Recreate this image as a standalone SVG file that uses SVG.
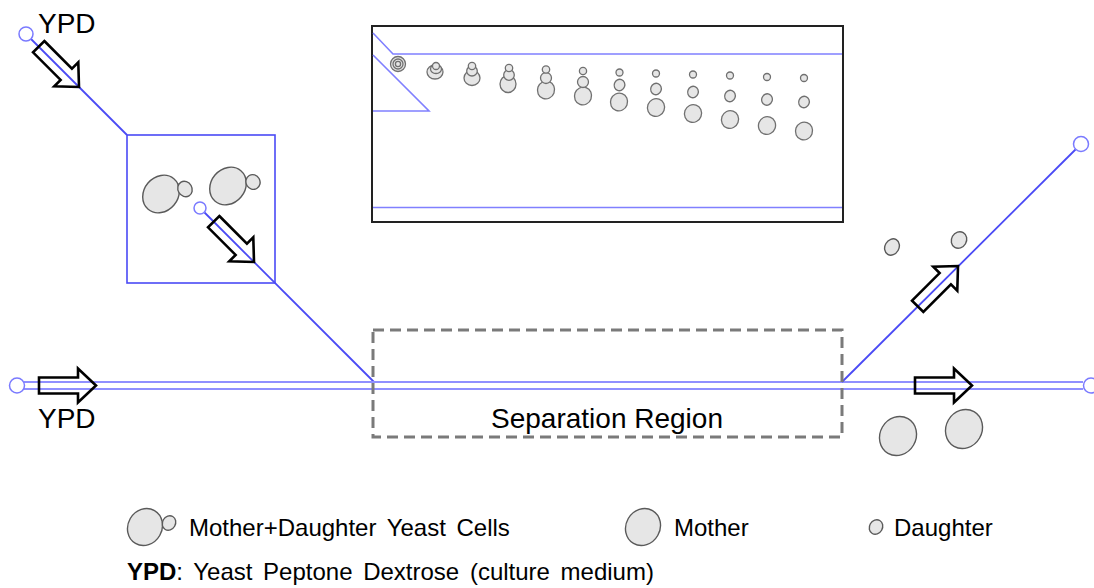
<svg xmlns="http://www.w3.org/2000/svg" width="1094" height="588" viewBox="0 0 1094 588">
  <style>
    .txt { font-family: "Liberation Sans", Arial, sans-serif; fill: #000; }
    .big { font-size: 28px; }
    .leg { font-size: 24px; word-spacing: 4px; }
    .chan { stroke: #8f8fff; stroke-width: 2; fill: none; }
    .diag { stroke: #4a4af5; stroke-width: 1.8; fill: none; }
    .port { stroke: #7a7aff; stroke-width: 1.5; fill: #fff; }
    .cell { fill: #e6e6e6; stroke: #5a5a5a; stroke-width: 1.4; }
    .icell { fill: #e6e6e6; stroke: #707070; stroke-width: 1.3; }
    .flow { fill: none; stroke: #000; stroke-width: 2.6; stroke-linejoin: miter; }
    .inset-ch { stroke: #8080ff; stroke-width: 1.6; fill: none; }
  </style>
  <defs>
    <!-- hollow block arrow, tip at origin pointing +x -->
    <polygon id="flowArrow" class="flow" points="-57,-8 -18,-8 -18,-17 0,0 -18,17 -18,8 -57,8"/>
  </defs>

  <rect width="1094" height="588" fill="#fff"/>

  <!-- channels -->
  <g id="connectors">
    <line class="diag" x1="31" y1="39" x2="127" y2="135"/>
    <line class="diag" x1="204.5" y1="212.5" x2="374" y2="382"/>
    <line class="chan" x1="24" y1="382" x2="1083" y2="382"/>
    <line class="chan" x1="24" y1="389" x2="1083" y2="389"/>
    <line class="diag" x1="842" y1="382" x2="1075.5" y2="149.5"/>
  </g>

  <!-- inlets / outlets -->
  <g id="inlet-top"><circle class="port" cx="26" cy="34" r="7"/></g>
  <g id="inlet-left"><circle class="port" cx="17" cy="385.5" r="7.5"/></g>
  <g id="outlet-upper"><circle class="port" cx="1081" cy="144" r="7.5"/></g>
  <g id="outlet-right"><circle class="port" cx="1091" cy="385.5" r="7.5"/></g>

  <!-- zoomed view of the upper inlet -->
  <g id="inlet-zoom">
    <rect x="127" y="135" width="148" height="148" fill="none" stroke="#4a4af5" stroke-width="1.6"/>
    <ellipse class="cell" cx="161" cy="194" rx="20" ry="17" transform="rotate(-50 161 194)"/>
    <ellipse class="cell" cx="185" cy="189" rx="7" ry="8" transform="rotate(-30 185 189)"/>
    <ellipse class="cell" cx="228" cy="186" rx="20" ry="17" transform="rotate(-50 228 186)"/>
    <ellipse class="cell" cx="253" cy="182" rx="7" ry="7.5" transform="rotate(-30 253 182)"/>
    <circle class="port" cx="200" cy="208" r="6"/>
  </g>

  <!-- flow arrows -->
  <g id="flow-arrows">
    <use href="#flowArrow" transform="translate(79 87) rotate(45)"/>
    <use href="#flowArrow" transform="translate(254 262) rotate(45)"/>
    <use href="#flowArrow" transform="translate(96 385.5)"/>
    <use href="#flowArrow" transform="translate(958 266) rotate(-45)"/>
    <use href="#flowArrow" transform="translate(972 385.5)"/>
  </g>

  <!-- separation region -->
  <g id="separation-region">
    <rect x="373" y="330" width="469" height="107" fill="none" stroke="#7a7a7a" stroke-width="3" stroke-dasharray="11 6"/>
    <text class="txt big" x="607" y="428" text-anchor="middle">Separation Region</text>
  </g>

  <!-- inset: cells separating along the channel -->
  <g id="separation-inset">
    <rect x="372" y="26" width="471" height="196" fill="#fff" stroke="#222" stroke-width="2"/>
    <polyline class="inset-ch" points="373,33 393,54 842,54"/>
    <polyline class="inset-ch" points="373,55 429,111 373,111"/>
    <line class="inset-ch" x1="373" y1="207.5" x2="842" y2="207.5"/>

    <circle class="icell" cx="398" cy="64" r="7.5"/>
    <circle class="icell" cx="398" cy="64" r="5"/>
    <circle class="icell" cx="398" cy="64" r="2.6"/>

    <ellipse class="icell" cx="435" cy="72" rx="8" ry="7"/>
    <ellipse class="icell" cx="436" cy="69" rx="5.5" ry="4.5"/>
    <circle class="icell" cx="436" cy="66" r="3.5"/>

    <ellipse class="icell" cx="472" cy="78" rx="8" ry="7.5"/>
    <ellipse class="icell" cx="472" cy="71" rx="5.3" ry="5"/>
    <circle class="icell" cx="472" cy="66" r="3.7"/>

    <ellipse class="icell" cx="508" cy="84" rx="8" ry="8.5"/>
    <circle class="icell" cx="509" cy="75" r="5.3"/>
    <circle class="icell" cx="509" cy="68" r="3.7"/>

    <ellipse class="icell" cx="546" cy="90" rx="8.5" ry="9" transform="rotate(20 546 90)"/>
    <circle class="icell" cx="546" cy="78" r="5.5"/>
    <circle class="icell" cx="546" cy="69.5" r="3.7"/>

    <ellipse class="icell" cx="583" cy="96" rx="8.5" ry="9" transform="rotate(20 583 96)"/>
    <circle class="icell" cx="583" cy="82" r="5.5"/>
    <circle class="icell" cx="583" cy="71" r="3.6"/>

    <ellipse class="icell" cx="619" cy="102" rx="8.5" ry="9" transform="rotate(20 619 102)"/>
    <ellipse class="icell" cx="619.5" cy="85" rx="5.3" ry="5.8" transform="rotate(20 619.5 85)"/>
    <circle class="icell" cx="619.5" cy="72.5" r="3.5"/>

    <ellipse class="icell" cx="656" cy="107.5" rx="8.5" ry="9" transform="rotate(20 656 107.5)"/>
    <ellipse class="icell" cx="656" cy="89" rx="5.3" ry="5.8" transform="rotate(20 656 89)"/>
    <circle class="icell" cx="656" cy="73.5" r="3.5"/>

    <ellipse class="icell" cx="693" cy="113.5" rx="8.5" ry="9" transform="rotate(20 693 113.5)"/>
    <ellipse class="icell" cx="693" cy="92" rx="5.3" ry="5.8" transform="rotate(20 693 92)"/>
    <circle class="icell" cx="693" cy="74.5" r="3.5"/>

    <ellipse class="icell" cx="730" cy="119.5" rx="8.5" ry="9" transform="rotate(20 730 119.5)"/>
    <ellipse class="icell" cx="730" cy="96" rx="5.3" ry="5.8" transform="rotate(20 730 96)"/>
    <circle class="icell" cx="730" cy="75.5" r="3.5"/>

    <ellipse class="icell" cx="767" cy="125.5" rx="8.5" ry="9" transform="rotate(20 767 125.5)"/>
    <ellipse class="icell" cx="767" cy="99.5" rx="5.3" ry="5.8" transform="rotate(20 767 99.5)"/>
    <circle class="icell" cx="767" cy="77" r="3.5"/>

    <ellipse class="icell" cx="804" cy="131" rx="8.5" ry="9" transform="rotate(20 804 131)"/>
    <ellipse class="icell" cx="804" cy="102" rx="5.3" ry="5.8" transform="rotate(20 804 102)"/>
    <circle class="icell" cx="804" cy="78" r="3.5"/>
  </g>

  <!-- separated cells at the outlets -->
  <g id="outlet-cells">
    <ellipse class="cell" cx="892" cy="247" rx="7" ry="8.5" transform="rotate(30 892 247)"/>
    <ellipse class="cell" cx="959" cy="240" rx="7.5" ry="8.5" transform="rotate(30 959 240)"/>
    <ellipse class="cell" cx="898" cy="436" rx="18" ry="20" transform="rotate(30 898 436)"/>
    <ellipse class="cell" cx="964" cy="429" rx="18" ry="20" transform="rotate(30 964 429)"/>
  </g>

  <!-- labels -->
  <g id="label-ypd-top"><text class="txt big" x="38" y="33">YPD</text></g>
  <g id="label-ypd-left"><text class="txt big" x="38" y="428">YPD</text></g>

  <!-- legend -->
  <g id="legend">
    <ellipse class="cell" cx="145" cy="527" rx="17" ry="19" transform="rotate(30 145 527)"/>
    <ellipse class="cell" cx="169" cy="523" rx="6.5" ry="7.5" transform="rotate(30 169 523)"/>
    <text class="txt leg" x="189" y="536">Mother+Daughter Yeast Cells</text>
    <ellipse class="cell" cx="643" cy="527" rx="17" ry="19" transform="rotate(30 643 527)"/>
    <text class="txt leg" x="674" y="536">Mother</text>
    <ellipse class="cell" cx="876" cy="527" rx="6.5" ry="7.5" transform="rotate(30 876 527)"/>
    <text class="txt leg" x="894" y="536">Daughter</text>
    <text class="txt leg" x="127" y="580"><tspan font-weight="bold">YPD</tspan>: Yeast Peptone Dextrose (culture medium)</text>
  </g>
</svg>
